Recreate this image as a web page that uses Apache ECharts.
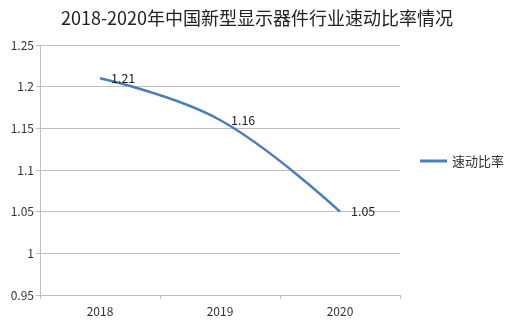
<!DOCTYPE html>
<html><head><meta charset="utf-8">
<script src="https://cdn.jsdelivr.net/npm/echarts@6/dist/echarts.min.js"></script>
<style>html,body{margin:0;padding:0;background:#fff}#c{width:514px;height:322px}</style>
</head><body><div id="c"></div>
<script>
const title = '2018-2020年中国新型显示器件行业速动比率情况';
const categories = ['2018', '2019', '2020'];
const seriesName = '速动比率';
const values = [1.21, 1.16, 1.05];
const yTicks = {min: 0.95, max: 1.25, interval: 0.05};

const chart = echarts.init(document.getElementById('c'));
const font = '"Noto Sans CJK SC", "Noto Sans", sans-serif';
const lineColor = '#4a7ebb';
chart.setOption({
  animation: false,
  title: {text: title, left: 'center', top: 4,
    textStyle: {fontFamily: font, fontSize: 18, fontWeight: 'normal', color: '#222'}},
  grid: {left: 40, right: 114, top: 45, bottom: 27, containLabel: false},
  legend: {orient: 'vertical', right: 5, top: 'middle', icon: 'rect', itemWidth: 27, itemHeight: 3,
    itemGap: 5, itemStyle: {color: lineColor, opacity: 1},
    textStyle: {fontFamily: font, fontSize: 13, color: '#333'}, data: [seriesName]},
  xAxis: {type: 'category', data: categories, boundaryGap: true,
    axisLine: {lineStyle: {color: '#bfbfbf'}},
    axisTick: {show: true, alignWithLabel: false, length: 4, lineStyle: {color: '#bfbfbf'}},
    axisLabel: {fontFamily: font, fontSize: 12, color: '#333', margin: 10}},
  yAxis: {type: 'value', min: yTicks.min, max: yTicks.max, interval: yTicks.interval,
    axisLine: {show: true, lineStyle: {color: '#bfbfbf'}},
    axisTick: {show: true, length: 4, inside: false, lineStyle: {color: '#bfbfbf'}},
    splitLine: {lineStyle: {color: '#bfbfbf'}},
    axisLabel: {fontFamily: font, fontSize: 12, color: '#333', margin: 6,
      formatter: v => String(parseFloat(v.toFixed(2)))}},
  series: [{name: seriesName, type: 'line', data: values, smooth: 0.4, showSymbol: true, symbol: 'circle', symbolSize: 2,
    lineStyle: {color: lineColor, width: 2.5}, itemStyle: {color: 'rgba(0,0,0,0)', borderWidth: 0},
    label: {show: true, position: 'right', distance: 10, fontFamily: font, fontSize: 12.5, color: '#222'}}]
});
</script></body></html>
